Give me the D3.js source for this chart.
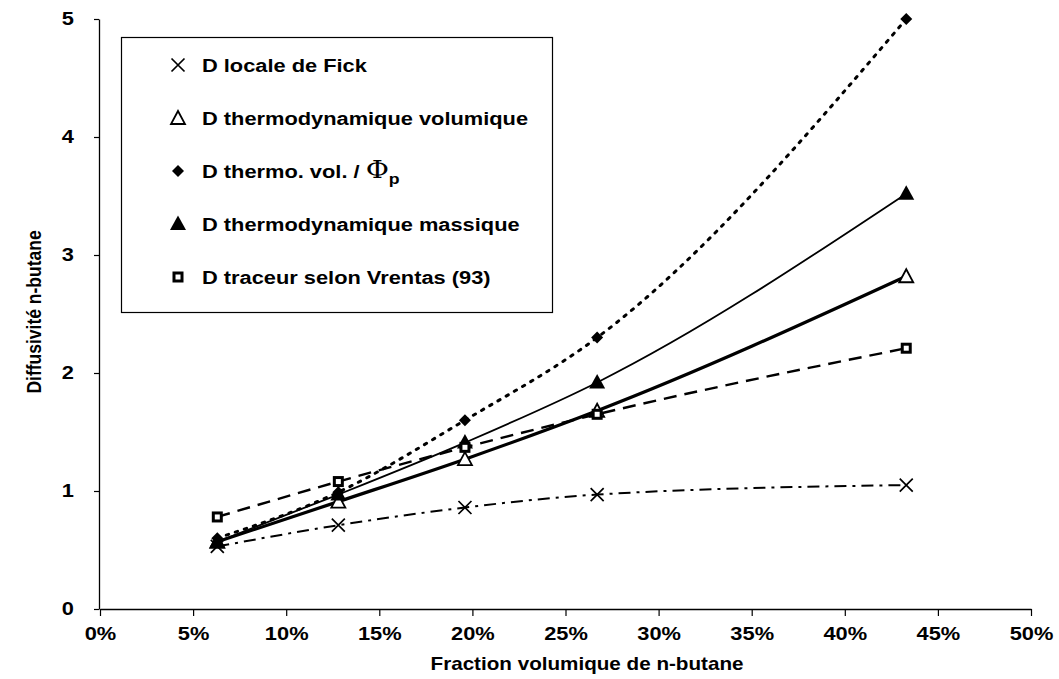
<!DOCTYPE html>
<html>
<head>
<meta charset="utf-8">
<script src="https://cdn.jsdelivr.net/npm/d3@7"></script>
<style>
  html, body { margin: 0; padding: 0; background: #fff; }
  svg { display: block; }
  text { font-family: "Liberation Sans", Arial, Helvetica, sans-serif; font-weight: bold; fill: #000; }
</style>
</head>
<body>
<svg id="chart" width="1059" height="679"></svg>
<script>
// ---- data ----
const fractions = [0.063, 0.128, 0.196, 0.267, 0.433];
const fickValues = [0.53, 0.71, 0.86, 0.97, 1.05];
const thermoVolValues = [0.57, 0.91, 1.27, 1.68, 2.82];
const thermoVolPhiValues = [0.60, 0.99, 1.60, 2.30, 5.00];
const thermoMassValues = [0.57, 0.97, 1.41, 1.92, 3.52];
const traceurValues = [0.78, 1.08, 1.37, 1.65, 2.21];
const xTicks = [0, 0.05, 0.1, 0.15, 0.2, 0.25, 0.3, 0.35, 0.4, 0.45, 0.5];
const yTicks = [0, 1, 2, 3, 4, 5];
const seriesNames = [
  "D locale de Fick",
  "D thermodynamique volumique",
  "D thermo. vol. / ",
  "D thermodynamique massique",
  "D traceur selon Vrentas (93)"
];
const xTitle = "Fraction volumique de n-butane";
const yTitle = "Diffusivité n-butane";

// ---- layout ----
const STRETCH = 1.18; // the original glyphs are slightly wide
const svg = d3.select("#chart");
const x = d3.scaleLinear().domain([0, 0.5]).range([100, 1031]);
const y = d3.scaleLinear().domain([0, 5]).range([609, 19]);

// axes
const xAxis = d3.axisBottom(x).tickValues(xTicks).tickFormat(d3.format(".0%")).tickSizeOuter(0).tickSizeInner(7).tickPadding(11);
const gx = svg.append("g").attr("transform", `translate(0,${y(0)})`).call(xAxis);
gx.select(".domain").attr("stroke", "#000").attr("stroke-width", 1.3);
gx.selectAll(".tick line").attr("stroke", "#000").attr("stroke-width", 1.2);
gx.selectAll(".tick text").attr("font-size", 18.5).attr("font-family", "Liberation Sans, Arial, sans-serif").attr("font-weight", "bold").attr("fill", "#000")
  .attr("transform", `scale(${STRETCH},1)`);

const yAxis = d3.axisLeft(y).tickValues(yTicks).tickFormat(d3.format("d")).tickSizeOuter(0).tickSizeInner(5).tickPadding(20);
const gy = svg.append("g").attr("transform", `translate(${x(0) - 1},0)`).call(yAxis);
gy.select(".domain").attr("stroke", "#000").attr("stroke-width", 1.3);
gy.selectAll(".tick line").attr("stroke", "#000").attr("stroke-width", 1.2);
gy.selectAll(".tick text").attr("font-size", 18.5).attr("font-family", "Liberation Sans, Arial, sans-serif").attr("font-weight", "bold").attr("fill", "#000")
  .attr("transform", "translate(-25,0) scale(" + STRETCH + ",1)").attr("x", 0);

// titles
svg.append("text").attr("transform", `translate(587,670) scale(${STRETCH},1)`).attr("text-anchor", "middle").attr("font-size", 17.5).text(xTitle);
svg.append("text").attr("transform", `translate(41,312) rotate(-90) scale(1,${STRETCH})`).attr("text-anchor", "middle").attr("font-size", 17.5).text(yTitle);

// ---- series ----
const series = [
  { name: seriesNames[0], values: fickValues, dash: "12,6,3,6", width: 2, marker: "cross" },
  { name: seriesNames[1], values: thermoVolValues, dash: null, width: 3.2, marker: "triOpen" },
  { name: seriesNames[2], values: thermoVolPhiValues, dash: "2.5,7", width: 3, marker: "diamond", cap: "round" },
  { name: seriesNames[3], values: thermoMassValues, dash: null, width: 1.8, marker: "triFilled" },
  { name: seriesNames[4], values: traceurValues, dash: "13,8", width: 2.4, marker: "square" }
];

const line = d3.line().x(d => x(d[0])).y(d => y(d[1])).curve(d3.curveMonotoneX);
const plot = svg.append("g");

series.forEach(s => {
  const pts = fractions.map((f, i) => [f, s.values[i]]);
  plot.append("path").datum(pts).attr("d", line)
    .attr("fill", "none").attr("stroke", "#000")
    .attr("stroke-width", s.width)
    .attr("stroke-dasharray", s.dash)
    .attr("stroke-linecap", s.cap || "butt");
});

function drawMarker(g, type, cx, cy) {
  if (type === "cross") {
    const r = 6.5;
    g.append("path").attr("d", `M${cx - r},${cy - r}L${cx + r},${cy + r}M${cx - r},${cy + r}L${cx + r},${cy - r}`)
      .attr("stroke", "#000").attr("stroke-width", 1.7).attr("fill", "none");
  } else if (type === "triOpen") {
    g.append("path").attr("d", `M${cx},${cy - 7}L${cx + 7},${cy + 6}L${cx - 7},${cy + 6}Z`)
      .attr("stroke", "#000").attr("stroke-width", 1.8).attr("fill", "#fff");
  } else if (type === "triFilled") {
    g.append("path").attr("d", `M${cx},${cy - 8.5}L${cx + 8},${cy + 6}L${cx - 8},${cy + 6}Z`)
      .attr("fill", "#000");
  } else if (type === "diamond") {
    const r = 6;
    g.append("path").attr("d", `M${cx},${cy - r}L${cx + r},${cy}L${cx},${cy + r}L${cx - r},${cy}Z`).attr("fill", "#000");
  } else if (type === "square") {
    g.append("rect").attr("x", cx - 4).attr("y", cy - 4).attr("width", 8).attr("height", 8)
      .attr("fill", "#fff").attr("stroke", "#000").attr("stroke-width", 3);
  }
}

series.forEach(s => {
  const g = plot.append("g");
  fractions.forEach((f, i) => drawMarker(g, s.marker, x(f), y(s.values[i])));
});

// ---- legend ----
const legend = svg.append("g");
legend.append("rect").attr("x", 121.5).attr("y", 37.5).attr("width", 431).attr("height", 275)
  .attr("fill", "#fff").attr("stroke", "#000").attr("stroke-width", 1.2);
const rowY = d3.scalePoint().domain(d3.range(series.length)).range([65, 277]);
series.forEach((s, i) => {
  const cy = rowY(i);
  drawMarker(legend, s.marker, 178, cy);
  const t = legend.append("text").attr("transform", `translate(202,${cy + 7}) scale(${STRETCH},1)`).attr("font-size", 18.5).text(s.name);
  if (i === 2) {
    t.append("tspan").attr("font-family", "DejaVu Serif, serif").attr("font-weight", "normal").attr("font-size", 24).text("Φ");
    t.append("tspan").attr("font-size", 15).attr("dy", 6).text("p");
  }
});
</script>
</body>
</html>
